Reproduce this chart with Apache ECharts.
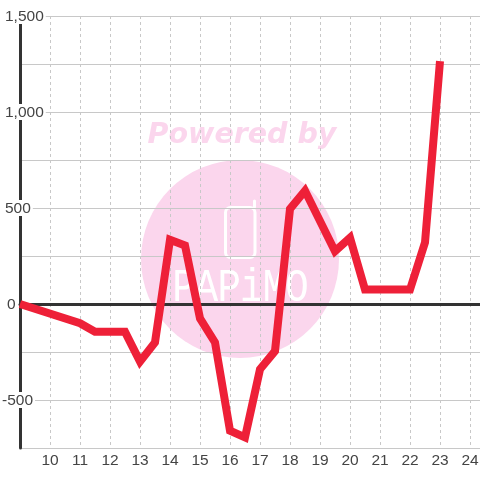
<!DOCTYPE html>
<html><head><meta charset="utf-8">
<style>html,body{margin:0;padding:0;background:#fff}#c{width:480px;height:480px}</style>
<script src="https://cdn.jsdelivr.net/npm/echarts@6/dist/echarts.min.js"></script>
</head><body><div id="c"></div>
<script>
var hours = [9, 11, 11.5, 12.5, 13, 13.5, 14, 14.5, 15, 15.5, 16, 16.5, 17, 17.5, 18, 18.5, 19.5, 20, 20.5, 22, 22.5, 23];
var values = [0, -100, -145, -145, -300, -200, 335, 305, -75, -200, -660, -695, -340, -245, 495, 590, 275, 345, 75, 75, 320, 1265];
var yLabelled = [1500, 1000, 500, 0, -500];
var logoLetters = ['P', 'A', 'P', 'i', 'M', 'O'];
var pink = '#fbd6ed';
var chart = echarts.init(document.getElementById('c'));
var logo = logoLetters.map(function (ch, i) {
  return { type: 'text', z: -1, x: 184 + i * 22.6, y: 289, scaleX: 0.85,
    style: { text: ch, fill: '#fff', font: '46px "Liberation Mono"', textAlign: 'center', textVerticalAlign: 'middle' } };
});
chart.setOption({
  animation: false,
  backgroundColor: '#fff',
  grid: { left: 20, right: 0, top: 16, bottom: 32, outerBoundsMode: 'none' },
  graphic: { elements: [
    { type: 'circle', z: -2, shape: { cx: 240, cy: 259, r: 99 }, style: { fill: pink } },
    { type: 'text', z: -1, x: 242, y: 136, style: { text: 'Powered by', fill: pink, font: 'italic bold 28.5px "DejaVu Sans"', textAlign: 'center', textVerticalAlign: 'middle' } },
    { type: 'rect', z: -1, shape: { x: 225.5, y: 207.5, width: 29.5, height: 50, r: 5 }, style: { fill: 'none', stroke: '#fff', lineWidth: 3 } },
    { type: 'line', z: -1, shape: { x1: 254.5, y1: 207, x2: 254.5, y2: 201 }, style: { stroke: '#fff', lineWidth: 3, lineCap: 'round' } }
  ].concat(logo) },
  xAxis: [{
    type: 'value', min: 9, max: 24.3333, interval: 1, position: 'bottom',
    axisLine: { show: false, onZero: false }, axisTick: { show: false },
    splitLine: { show: true, showMinLine: false, showMaxLine: false, lineStyle: { color: '#c8c8c8', width: 1, type: [3, 3] } },
    axisLabel: { show: true, fontFamily: 'Liberation Sans', fontSize: 15.5, color: '#444', margin: 5, showMinLabel: false, showMaxLabel: false,
      formatter: function (v) { return v === 9 || v % 1 !== 0 ? '' : String(v); } }
  }, {
    type: 'value', min: 9, max: 24.3333, interval: 1,
    axisLine: { show: true, onZero: true, lineStyle: { color: '#333', width: 3 } },
    axisTick: { show: false }, axisLabel: { show: false }, splitLine: { show: false }
  }],
  yAxis: {
    type: 'value', min: -750, max: 1500, interval: 250,
    axisLine: { show: true, onZero: false, lineStyle: { color: '#333', width: 3 } },
    axisTick: { show: false },
    splitLine: { show: true, lineStyle: { color: '#c8c8c8', width: 1 } },
    axisLabel: { show: true, align: 'left', margin: 18, showMinLabel: true, showMaxLabel: true,
      formatter: function (v) {
        if (yLabelled.indexOf(v) < 0) return '';
        var s = v.toLocaleString('en-US');
        return '{' + (v < 0 ? 'neg' : v === 0 ? 'zero' : 'pos') + '|' + s + '}';
      },
      rich: {
        pos: { fontFamily: 'Liberation Sans', fontSize: 15.5, color: '#444', backgroundColor: '#fff', height: 14, lineHeight: 14, padding: [2, 2, 0, 3] },
        neg: { fontFamily: 'Liberation Sans', fontSize: 15.5, color: '#444', backgroundColor: '#fff', height: 14, lineHeight: 14, padding: [2, 2, 0, 0] },
        zero: { fontFamily: 'Liberation Sans', fontSize: 15.5, color: '#444', height: 14, lineHeight: 14, padding: [2, 0, 0, 5] }
      }
    }
  },
  series: [{
    type: 'line', xAxisIndex: 0, yAxisIndex: 0, showSymbol: false, clip: false, smooth: false,
    lineStyle: { color: '#ee2038', width: 8, cap: 'butt', join: 'miter' },
    data: hours.map(function (h, i) { return [h, values[i]]; })
  }]
});
</script></body></html>
